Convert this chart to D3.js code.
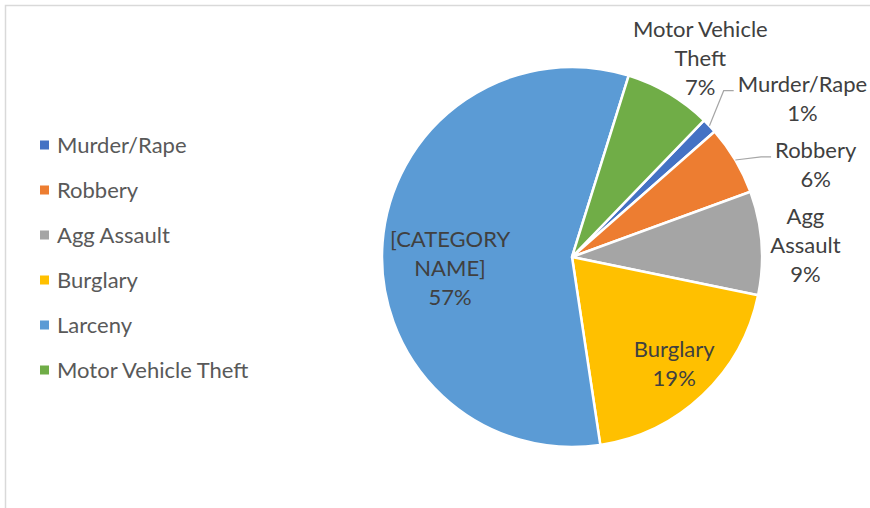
<!DOCTYPE html>
<html>
<head>
<meta charset="utf-8">
<script src="https://cdn.jsdelivr.net/npm/d3@7"></script>
<style>
  body { margin: 0; background: #fff; }
  svg { display: block; font-family: Lato, "Open Sans", sans-serif; }
</style>
</head>
<body>
<div id="chart-container"></div>
<script>
// data
const categories = ["Murder/Rape", "Robbery", "Agg Assault", "Burglary", "Larceny", "Motor Vehicle Theft"];
const values = [13, 59, 88, 194, 572, 74];
const labelNames = [["Murder/Rape"], ["Robbery"], ["Agg", "Assault"], ["Burglary"], ["[CATEGORY", "NAME]"], ["Motor Vehicle", "Theft"]];
const colors = ["#4472C4", "#ED7D31", "#A5A5A5", "#FFC000", "#5B9BD5", "#70AD47"];

// label placement: angle (deg, clockwise from top) and radius factor, leader or not
const labelPlace = [
  { a: 55.6, r: 1.47, leader: true },
  { a: 69.4, r: 1.37, leader: true },
  { a: 87.3, r: 1.23, leader: false },
  { a: 136.4, r: 0.78, leader: false },
  { a: 264.4, r: 0.645, leader: false },
  { a: 33.0, r: 1.24, leader: false }
];

const width = 870, height = 508;
const cx = 572, cy = 257, radius = 190;
const lineH = 29;

const svg = d3.select("#chart-container")
  .append("svg")
  .attr("width", width)
  .attr("height", height);

// chart area border (runs off the right and bottom edges)
svg.append("path")
  .attr("d", `M5.5,${height + 10}V5.5H${width + 10}`)
  .attr("fill", "none")
  .attr("stroke", "#d9d9d9")
  .attr("stroke-width", 1.5);

const total = d3.sum(values);
const rad = (deg) => deg * Math.PI / 180;

const pie = d3.pie()
  .sort(null)
  .startAngle(rad(44))
  .endAngle(rad(44 + 360));

const arcs = pie(values);
const arc = d3.arc().innerRadius(0).outerRadius(radius);

const g = svg.append("g").attr("transform", `translate(${cx},${cy})`);

g.selectAll("path.slice")
  .data(arcs)
  .join("path")
  .attr("class", "slice")
  .attr("d", arc)
  .attr("fill", (d, i) => colors[i])
  .attr("stroke", "#fff")
  .attr("stroke-width", 2.5)
  .attr("stroke-linejoin", "round");

// data labels
const labels = g.selectAll("g.lbl")
  .data(arcs)
  .join("g")
  .attr("class", "lbl");

labels.each(function (d, i) {
  const place = labelPlace[i];
  const lx = Math.sin(rad(place.a)) * radius * place.r;
  const ly = -Math.cos(rad(place.a)) * radius * place.r;
  const lines = labelNames[i].concat([Math.round(values[i] / total * 100) + "%"]);
  const firstBase = ly - (lines.length - 1) / 2 * lineH + 7;

  const t = d3.select(this).append("text")
    .attr("text-anchor", "middle")
    .attr("fill", "#404040")
    .style("font-size", "22px");

  t.selectAll("tspan")
    .data(lines)
    .join("tspan")
    .attr("x", lx)
    .attr("y", (s, k) => firstBase + k * lineH)
    .text((s) => s);

  if (place.leader) {
    const firstW = t.select("tspan").node().getComputedTextLength();
    const ex = lx - firstW / 2 - 4, ey = firstBase - 1;
    const mid = (d.startAngle + d.endAngle) / 2;
    const sx = Math.sin(mid) * radius, sy = -Math.cos(mid) * radius;
    d3.select(this).insert("path", "text")
      .attr("d", d3.line()([[sx, sy], [ex - 10, ey], [ex, ey]]))
      .attr("fill", "none")
      .attr("stroke", "#a6a6a6")
      .attr("stroke-width", 1.2);
  }
});

// legend
const legend = svg.append("g").attr("transform", "translate(40,145)");

const item = legend.selectAll("g.legend-item")
  .data(categories)
  .join("g")
  .attr("class", "legend-item")
  .attr("transform", (d, i) => `translate(0,${i * 45})`);

item.append("rect")
  .attr("x", 0)
  .attr("y", -4.5)
  .attr("width", 9)
  .attr("height", 9)
  .attr("fill", (d, i) => colors[i]);

item.append("text")
  .attr("x", 17)
  .attr("y", 7.5)
  .attr("fill", "#595959")
  .style("font-size", "22px")
  .text((d) => d);
</script>
</body>
</html>
